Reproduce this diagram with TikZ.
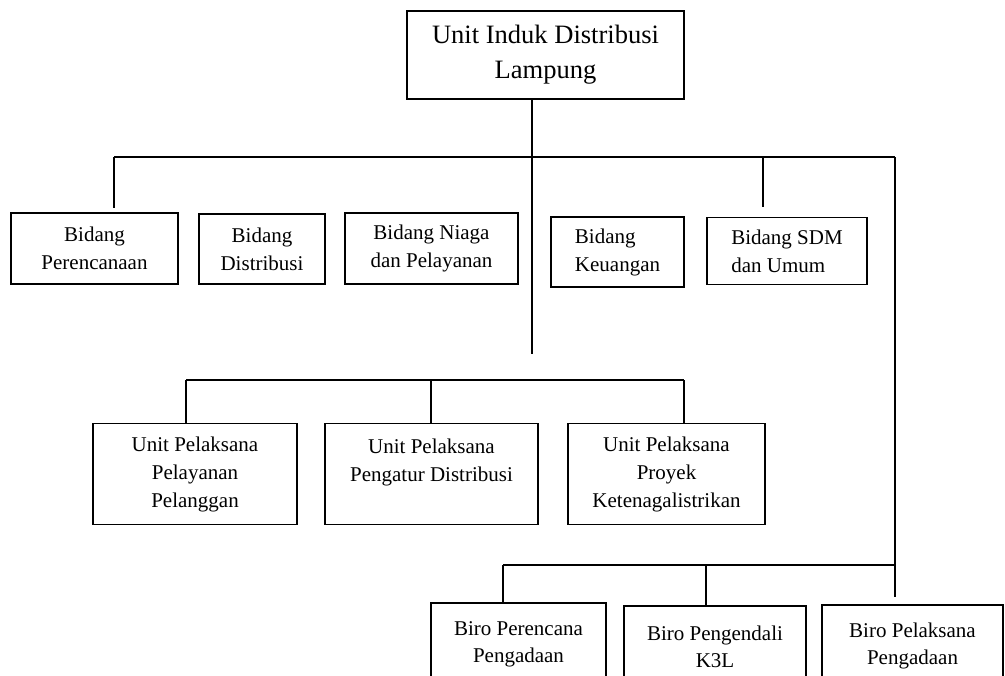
\documentclass[tikz,border=0pt]{standalone}
\usepackage{fontspec}
\setmainfont{Liberation Serif}
\begin{document}
\begin{tikzpicture}[x=0.75pt,y=-0.75pt,
  box/.style={draw, line width=0.9pt, inner sep=0pt, align=center,
    font=\fontsize{15.75pt}{21pt}\selectfont},
  topbox/.style={box, font=\fontsize{19.9pt}{26.25pt}\selectfont},
  birobox/.style={box, font=\fontsize{15.75pt}{20.25pt}\selectfont},
  conn/.style={line width=1.25pt},
  bar/.style={line width=1.5pt}]
\useasboundingbox (0,0) rectangle (1005,675);
\clip (0,0) rectangle (1005,675);
% top
\node[topbox, minimum width=207.75pt, minimum height=66pt] (top) at (545.5,55) {Unit Induk Distribusi\\Lampung};
% bidang row
\node[box, minimum width=125.25pt, minimum height=53.25pt] (b1) at (94.5,248.5) {Bidang\\Perencanaan};
\node[box, minimum width=94.5pt, minimum height=52.5pt] (b2) at (262,249) {Bidang\\Distribusi};
\node[box, minimum width=129.75pt, minimum height=53.25pt] (b3) at (431.5,248.5) {Bidang Niaga\\dan Pelayanan};
\node[box, align=left, minimum width=99.75pt, minimum height=52.5pt] (b4) at (617.5,252) {Bidang\\Keuangan};
\node[box, align=left, minimum width=120pt, minimum height=50.25pt] (b5) at (787,251) {Bidang SDM\\dan Umum};
% unit row
\node[box, minimum width=153pt, minimum height=75.75pt] (u1) at (195,474) {Unit Pelaksana\\Pelayanan\\Pelanggan};
\node[box, minimum width=159.75pt, minimum height=75.75pt] (u2) at (431.5,474) {Unit Pelaksana\\Pengatur Distribusi\\\mbox{}};
\node[box, minimum width=147.75pt, minimum height=75.75pt] (u3) at (666.5,474) {Unit Pelaksana\\Proyek\\Ketenagalistrikan};
% biro row
\node[birobox, minimum width=131.25pt, minimum height=61.5pt] (r1) at (518.5,644) {Biro Perencana\\Pengadaan};
\node[birobox, minimum width=136.5pt, minimum height=61.5pt] (r2) at (715,647) {Biro Pengendali\\K3L};
\node[birobox, minimum width=135.75pt, minimum height=61.5pt] (r3) at (912.5,646) {Biro Pelaksana\\Pengadaan};
% junction coordinates
\coordinate (mainend) at (532,354);
\coordinate (hL) at (114,157);
\coordinate (hR) at (895,157);
\coordinate (hS) at (763,157);
\coordinate (dL) at (114,208);
\coordinate (dS) at (763,207);
\coordinate (rEnd) at (895,597);
\coordinate (uL) at (186,380);
\coordinate (uM) at (431,380);
\coordinate (uR) at (684,380);
\coordinate (bL) at (503,565);
\coordinate (bM) at (706,565);
\coordinate (bR) at (895,565);
% connectors
\draw[conn] (top.south -| mainend) -- (mainend);
\draw[bar] (hL) -- (hR);
\draw[conn] (hL) -- (dL);
\draw[conn] (hS) -- (dS);
\draw[conn] (hR) -- (rEnd);
\draw[bar] (uL) -- (uR);
\draw[conn] (uL) -- (u1.north -| uL);
\draw[conn] (uM) -- (u2.north -| uM);
\draw[conn] (uR) -- (u3.north -| uR);
\draw[bar] (bL) -- (bR);
\draw[conn] (bL) -- (r1.north -| bL);
\draw[conn] (bM) -- (r2.north -| bM);
\end{tikzpicture}
\end{document}
